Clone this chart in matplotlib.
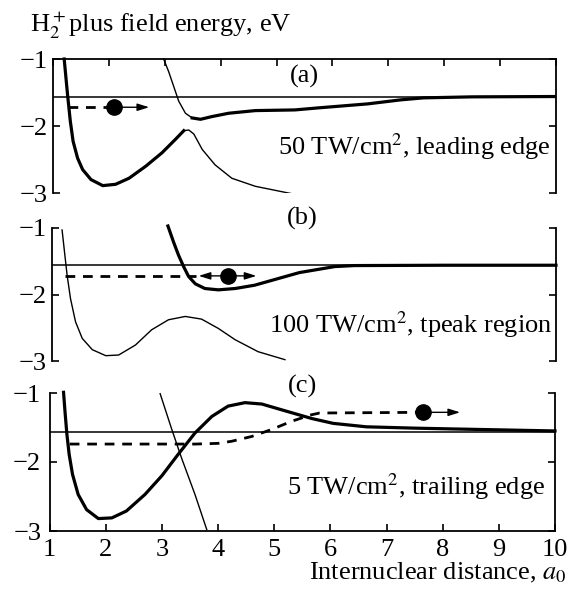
# coding:utf-8
import numpy as np
import matplotlib.pyplot as plt

plt.rcParams['font.family'] = ['Liberation Serif', 'DejaVu Serif']
plt.rcParams['mathtext.fontset'] = 'stix'

# 場の無いときの解離極限と振動準位
limit = -1.56
level = -1.72

# (a) 50 TW/cm2, leading edge
a_low_x = [1.20, 1.26, 1.31, 1.36, 1.44, 1.53, 1.68, 1.89, 2.12, 2.36, 2.66, 2.95, 3.19, 3.34]
a_low_y = [-1.0, -1.53, -1.93, -2.23, -2.48, -2.65, -2.80, -2.89, -2.87, -2.78, -2.60, -2.40, -2.20, -2.07]
a_low_thin_x = [3.34, 3.43, 3.52, 3.67, 3.90, 4.20, 4.62, 5.27]
a_low_thin_y = [-2.07, -2.06, -2.12, -2.35, -2.58, -2.78, -2.90, -3.01]
a_up_thin_x = [2.98, 3.07, 3.16, 3.25, 3.37, 3.49]
a_up_thin_y = [-1.0, -1.19, -1.41, -1.63, -1.81, -1.88]
a_up_x = [3.49, 3.64, 3.84, 4.14, 4.62, 5.33, 5.74, 6.63, 7.22, 7.63, 8.5, 10.0]
a_up_y = [-1.88, -1.90, -1.86, -1.81, -1.77, -1.76, -1.73, -1.67, -1.61, -1.58, -1.565, -1.56]
a_dash_x = [1.26, 2.09]
a_dot = (2.09, level)
a_tip = 2.72

# (b) 100 TW/cm2, tpeak region
b_thin_x = [1.18, 1.23, 1.27, 1.33, 1.42, 1.54, 1.72, 1.96, 2.19, 2.49, 2.78, 3.08, 3.38,
            3.67, 3.97, 4.27, 4.68, 5.16]
b_thin_y = [-1.03, -1.41, -1.71, -2.06, -2.41, -2.66, -2.83, -2.92, -2.91, -2.76, -2.53, -2.38, -2.33,
            -2.37, -2.51, -2.68, -2.86, -2.98]
b_thick_x = [3.07, 3.17, 3.26, 3.35, 3.44, 3.56, 3.73, 3.97, 4.27, 4.62, 5.04, 5.42, 6.05, 6.40, 8.0, 10.0]
b_thick_y = [-0.97, -1.21, -1.41, -1.58, -1.73, -1.84, -1.91, -1.93, -1.91, -1.86, -1.76, -1.67, -1.58,
             -1.565, -1.56, -1.56]
b_dash_x = [1.23, 3.58]
b_dot = (4.15, level)
b_tips = [3.62, 4.65]

# (c) 5 TW/cm2, trailing edge
c_x = [1.25, 1.28, 1.31, 1.35, 1.41, 1.51, 1.66, 1.87, 2.11, 2.37, 2.70, 3.00, 3.29, 3.59,
       3.89, 4.18, 4.48, 4.78, 5.16, 5.67, 6.05, 6.64, 7.53, 8.13, 10.0]
c_y = [-0.99, -1.31, -1.60, -1.89, -2.18, -2.47, -2.69, -2.82, -2.81, -2.71, -2.47, -2.20, -1.89, -1.58,
       -1.34, -1.19, -1.14, -1.16, -1.25, -1.37, -1.44, -1.49, -1.51, -1.52, -1.55]
c_thin_x = [2.97, 3.17, 3.35, 3.59, 3.80]
c_thin_y = [-1.01, -1.51, -1.94, -2.47, -2.98]
c_dash_x = [1.36, 2.50, 3.60, 4.00, 4.24, 4.60, 4.95, 5.31, 5.46, 5.64, 5.81, 7.65]
c_dash_y = [-1.74, -1.74, -1.74, -1.73, -1.70, -1.63, -1.53, -1.41, -1.37, -1.32, -1.29, -1.28]
c_dot = (7.65, -1.28)
c_tip = 8.31

labels = ["50 TW/cm$^2$, leading edge", "100 TW/cm$^2$, tpeak region", "5 TW/cm$^2$, trailing edge"]

W, H = 570, 590
fig = plt.figure(figsize=(W / 100, H / 100), dpi=100)

def box(x0, x1, ytop, ybot):
    return [x0 / W, 1 - ybot / H, (x1 - x0) / W, (ybot - ytop) / H]

ax_a = fig.add_axes(box(53, 556, 59, 193))
ax_b = fig.add_axes(box(52, 556, 228, 361))
ax_c = fig.add_axes(box(49.5, 555, 393, 531))

thick = 2.3
thin = 1.0
dash = (0, (3.5, 2.8))
arrow = dict(arrowstyle='-|>,head_length=0.7,head_width=0.22', lw=1.0, color='black',
             shrinkA=0, shrinkB=0)
fs = 19

for ax in (ax_a, ax_b, ax_c):
    ax.set_xlim(1, 10)
    ax.set_ylim(-3, -1)
    ax.set_yticks([-3, -2, -1])
    ax.set_xticks(range(1, 11))
    ax.axhline(limit, color='black', lw=1.1)
    for s in ax.spines.values():
        s.set_linewidth(1.3)
    ax.tick_params(direction='in', length=5, width=1.2, labelsize=fs, pad=4,
                   left=True, right=True, top=False, bottom=False, labelbottom=False)

# (a)
ax_a.spines['bottom'].set_visible(False)
ax_a.tick_params(top=True)
ax_a.plot(a_low_x, a_low_y, color='black', lw=thick, clip_on=False, solid_joinstyle='round')
ax_a.plot(a_low_thin_x, a_low_thin_y, color='black', lw=thin)
ax_a.plot(a_up_thin_x, a_up_thin_y, color='black', lw=thin, clip_on=False)
ax_a.plot(a_up_x, a_up_y, color='black', lw=thick, solid_joinstyle='round')
ax_a.plot(a_dash_x, [level, level], color='black', lw=2.0, linestyle=dash)
ax_a.annotate('', xy=(a_tip, level), xytext=(a_dot[0], level), arrowprops=arrow)
ax_a.plot(*a_dot, 'o', color='black', ms=11)
ax_a.text(5.5, -1.26, "(a)", ha='center', va='center', fontsize=fs)
ax_a.text(9.9, -2.31, labels[0], ha='right', va='center', fontsize=fs)

# (b)
ax_b.spines['top'].set_visible(False)
ax_b.spines['bottom'].set_visible(False)
ax_b.plot(b_thin_x, b_thin_y, color='black', lw=thin, clip_on=False)
ax_b.plot(b_thick_x, b_thick_y, color='black', lw=thick, clip_on=False, solid_joinstyle='round')
ax_b.plot(b_dash_x, [level, level], color='black', lw=2.0, linestyle=dash)
for t in b_tips:
    ax_b.annotate('', xy=(t, level), xytext=(b_dot[0], level), arrowprops=arrow)
ax_b.plot(*b_dot, 'o', color='black', ms=11)
ax_b.text(5.47, -0.85, "(b)", ha='center', va='center', fontsize=fs)
ax_b.text(9.93, -2.46, labels[1], ha='right', va='center', fontsize=fs)

# (c)
ax_c.spines['top'].set_visible(False)
ax_c.tick_params(bottom=True, labelbottom=True, pad=6)
ax_c.plot(c_x, c_y, color='black', lw=thick, clip_on=False, solid_joinstyle='round')
ax_c.plot(c_thin_x, c_thin_y, color='black', lw=thin, clip_on=False)
ax_c.plot(c_dash_x, c_dash_y, color='black', lw=2.0, linestyle=dash)
ax_c.annotate('', xy=(c_tip, c_dot[1]), xytext=c_dot, arrowprops=arrow)
ax_c.plot(*c_dot, 'o', color='black', ms=11)
ax_c.text(5.5, -0.91, "(c)", ha='center', va='center', fontsize=fs)
ax_c.text(9.83, -2.36, labels[2], ha='right', va='center', fontsize=fs)

fig.text(30 / W, 1 - 25 / H, "H$_2^+$plus field energy, eV", ha='left', va='center', fontsize=fs)
fig.text(567 / W, 1 - 573 / H, "Internuclear distance, $a_0$", ha='right', va='center', fontsize=fs)

plt.savefig("out.png", dpi=100)
